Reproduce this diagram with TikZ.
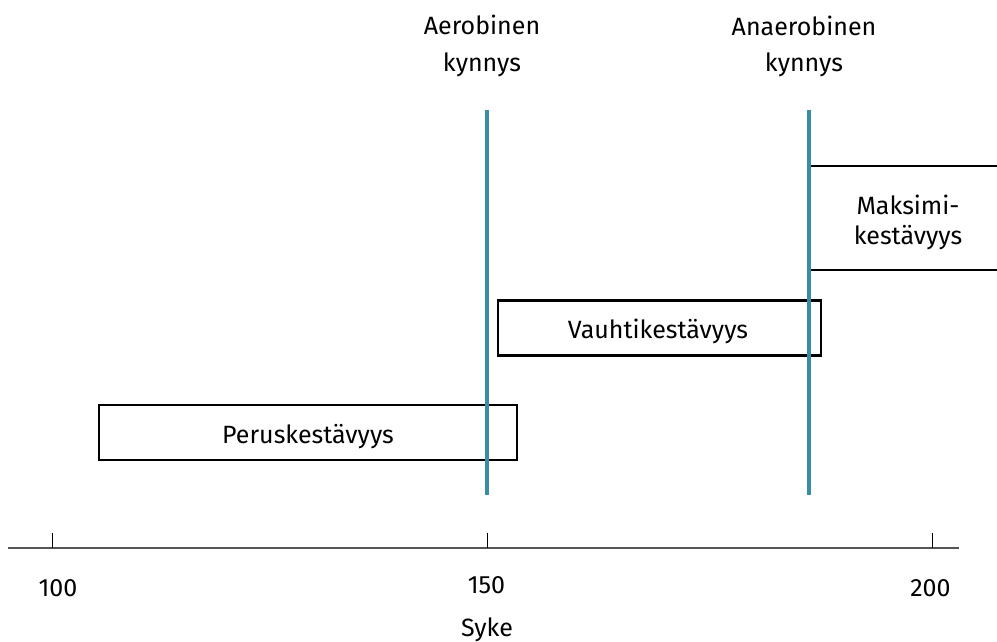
\documentclass[tikz,border=0pt]{standalone}
\usepackage{fontspec}
\setmainfont{Fira Sans}
\definecolor{kynnysblue}{HTML}{3A8DA8}
\definecolor{axisgray}{HTML}{555555}
\tikzset{
  zone/.style={draw=black,line width=2.5pt,inner sep=0pt,minimum height=55pt},
  kynnys/.style={kynnysblue,line width=4pt},
  lbl/.style={font=\fontsize{25}{30}\selectfont,anchor=base,inner sep=0pt}
}
\begin{document}
\begin{tikzpicture}[x=1pt,y=-1pt]
\useasboundingbox (0,0) rectangle (997,642);
\begin{scope}
\clip (0,0) rectangle (997,642);
%zones
\node[zone,minimum width=418pt] (perus) at (308,432.5) {};
\node[lbl] at (308,443) {Peruskestävyys};
\node[zone,minimum width=323pt] (vauhti) at (659.5,328) {};
\node[lbl] at (658,338) {Vauhtikestävyys};
\node[zone,minimum width=220pt,minimum height=104pt] (maksimi) at (920,218) {};
\node[lbl] at (908,214) {Maksimi-};
\node[lbl] at (908,244) {kestävyys};
\end{scope}
%thresholds
\coordinate (aeroTop) at (487,110);
\coordinate (aeroBot) at (487,495);
\coordinate (anaeTop) at (809,110);
\coordinate (anaeBot) at (809,495);
\draw[kynnys](aeroTop)--(aeroBot);
\draw[kynnys](anaeTop)--(anaeBot);
\node[lbl] (aero) at (482,35) {Aerobinen};
\node[lbl] (aero2) at (482,72) {kynnys};
\node[lbl] (anae) at (804,36) {Anaerobinen};
\node[lbl] (anae2) at (804,72) {kynnys};
%axis
\coordinate (axL) at (8,548);
\coordinate (axR) at (959,548);
\draw[axisgray,line width=2pt](axL)--(axR);
\foreach \x in {52,487,932}
  \draw[line width=1pt](\x,533)--(\x,548);
\node[lbl] (t100) at (58,596) {100};
\node[lbl] (t150) at (486.5,593) {150};
\node[lbl] (t200) at (930.5,596) {200};
\node[lbl] (syke) at (487,636) {Syke};
\end{tikzpicture}
\end{document}
